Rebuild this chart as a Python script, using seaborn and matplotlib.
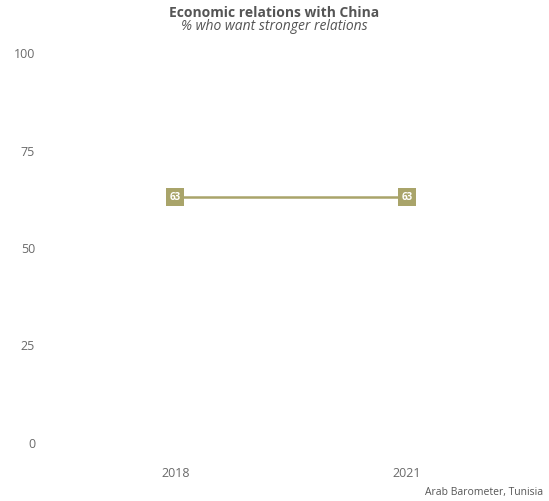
import matplotlib
matplotlib.use("Agg")
import matplotlib.pyplot as plt
import seaborn as sns
import pandas as pd

years = [2018, 2021]
values = [63, 63]
yticks = [0, 25, 50, 75, 100]
title = "Economic relations with China"
subtitle = "% who want stronger relations"
caption = "Arab Barometer, Tunisia"

sns.set_theme(style="white")
plt.rcParams['font.family'] = ['Open Sans', 'DejaVu Sans']

color = "#a9a46a"
df = pd.DataFrame({"year": years, "value": values})

W, H = 549, 501
fig = plt.figure(figsize=(W / 100, H / 100), dpi=100)
ax = fig.add_axes([40 / W, 1 - 443 / H, 500 / W, 390 / H])

sns.lineplot(data=df, x="year", y="value", color=color, linewidth=1.8, ax=ax)
sns.scatterplot(data=df, x="year", y="value", color=color, marker="s", s=165,
                edgecolor="none", ax=ax, zorder=3, clip_on=False)
for x, v in zip(years, values):
    ax.text(x, v, f"{v}", color="white", fontsize=7, fontweight="bold",
            ha="center", va="center", zorder=4)

ax.set_ylim(0, 100)
ax.set_xlim(2016.25, 2022.72)
ax.set_yticks(yticks)
ax.set_xticks(years)
ax.set_xticklabels([str(y) for y in years])
ax.set_xlabel("")
ax.set_ylabel("")
for s in ax.spines.values():
    s.set_visible(False)
ax.tick_params(axis="both", length=0, labelsize=9, labelcolor="#6a6a6a")
ax.tick_params(axis="x", pad=17.5)
ax.tick_params(axis="y", pad=3.5)

fig.text(0.5, 1 - 13 / H, title, ha="center", va="center", fontsize=10,
         fontweight="bold", color="#555555")
fig.text(0.5, 1 - 26 / H, subtitle, ha="center", va="center", fontsize=10,
         style="italic", color="#555555")
fig.text(1 - 6 / W, 1 - 492 / H, caption, ha="right", va="center", fontsize=7.5,
         color="#555555")

fig.savefig("out.png", dpi=100)
